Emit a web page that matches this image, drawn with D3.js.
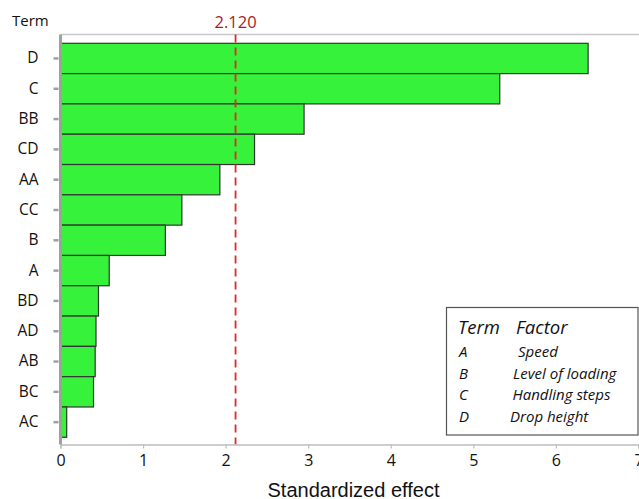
<!DOCTYPE html>
<html>
<head>
<meta charset="utf-8">
<script src="https://cdn.jsdelivr.net/npm/d3@7"></script>
<style>
  html, body { margin: 0; padding: 0; background: #fff; }
  svg { display: block; }
</style>
</head>
<body>
<div id="chart"></div>
<script>
// Pareto chart of standardized effects
const terms = ["D", "C", "BB", "CD", "AA", "CC", "B", "A", "BD", "AD", "AB", "BC", "AC"];
const effects = [6.39, 5.32, 2.95, 2.35, 1.93, 1.47, 1.27, 0.59, 0.46, 0.43, 0.42, 0.40, 0.075];
const xTicks = [0, 1, 2, 3, 4, 5, 6, 7];
const critical = 2.12;
const legendTerms = ["A", "B", "C", "D"];
const legendFactors = ["Speed", "Level of loading", "Handling steps", "Drop height"];

const width = 639, height = 499;
const plotLeft = 60.5, plotRight = 638.5, plotTop = 34.5, plotBottom = 444.5;

const svg = d3.select("#chart").append("svg")
  .attr("width", width)
  .attr("height", height);

const x = d3.scaleLinear().domain([0, 7]).range([plotLeft, plotRight]);
const y = d3.scaleBand().domain(terms).range([43.3, 437.3]).padding(0);

// top frame line
svg.append("line")
  .attr("x1", plotLeft).attr("x2", width).attr("y1", plotTop).attr("y2", plotTop)
  .attr("stroke", "#c8c8c8").attr("stroke-width", 1.5);

// bars
svg.append("g")
  .selectAll("rect")
  .data(terms.map((t, i) => ({ term: t, value: effects[i] })))
  .join("rect")
  .attr("x", x(0))
  .attr("y", (d) => y(d.term))
  .attr("width", (d) => x(d.value) - x(0))
  .attr("height", y.bandwidth())
  .attr("fill", "#37f23a")
  .attr("stroke", "#333")
  .attr("stroke-width", 1.2);

// reference line
svg.append("line")
  .attr("x1", x(critical)).attr("x2", x(critical))
  .attr("y1", plotTop).attr("y2", plotBottom)
  .attr("stroke", "#dd2a2a")
  .attr("stroke-width", 1.8)
  .attr("stroke-dasharray", "8,5");

svg.append("text")
  .attr("x", x(critical))
  .attr("y", 27.5)
  .attr("text-anchor", "middle")
  .attr("font-family", "'Open Sans', sans-serif")
  .attr("font-size", 16.5)
  .attr("fill", "#a81c1c")
  .text(d3.format(".3f")(critical));

// x axis
const gx = svg.append("g")
  .attr("transform", `translate(0,${plotBottom})`)
  .call(d3.axisBottom(x).tickValues(xTicks).tickFormat(d3.format("d")).tickSize(4).tickPadding(6));
gx.select(".domain").attr("stroke", "#bdbdbd").attr("stroke-width", 1.5);
gx.selectAll(".tick line").attr("stroke", "#bdbdbd").attr("stroke-width", 1.2);
gx.selectAll(".tick text")
  .attr("font-family", "'Open Sans', sans-serif")
  .attr("font-size", 16)
  .attr("fill", "#111");

// y axis
const gy = svg.append("g")
  .attr("transform", `translate(${plotLeft},0)`)
  .call(d3.axisLeft(y).tickSize(0).tickPadding(22));
gy.select(".domain").remove();
gy.append("line")
  .attr("x1", 0).attr("x2", 0).attr("y1", plotTop).attr("y2", plotBottom)
  .attr("stroke", "#a0a0a0").attr("stroke-width", 3);
gy.selectAll(".tick").append("line")
  .attr("x1", -7).attr("x2", -2)
  .attr("stroke", "#a0a0a0").attr("stroke-width", 2.5);
gy.selectAll(".tick text")
  .attr("font-family", "'Open Sans', sans-serif")
  .attr("font-size", 15.5)
  .attr("fill", "#111");

svg.append("text")
  .attr("x", 12).attr("y", 26)
  .attr("font-family", "'Open Sans', sans-serif")
  .attr("font-size", 15)
  .attr("fill", "#111")
  .text("Term");

svg.append("text")
  .attr("x", (plotLeft + plotRight) / 2 + 4).attr("y", 497)
  .attr("text-anchor", "middle")
  .attr("font-family", "'Liberation Sans', Arial, sans-serif")
  .attr("font-size", 20)
  .attr("fill", "#111")
  .text("Standardized effect");

// legend
const lg = svg.append("g");
lg.append("rect")
  .attr("x", 446.5).attr("y", 307.5)
  .attr("width", 191.5).attr("height", 127.5)
  .attr("fill", "#fff")
  .attr("stroke", "#555").attr("stroke-width", 1.2);
const italic = (sel) => sel
  .attr("font-family", "'Open Sans', sans-serif")
  .attr("font-style", "italic")
  .attr("fill", "#111");
lg.append("text").attr("x", 458).attr("y", 334).attr("font-size", 18.5).call(italic).text("Term");
lg.append("text").attr("x", 516).attr("y", 334).attr("font-size", 18.5).call(italic).text("Factor");
const factorX = [518, 513, 512.5, 510];
legendTerms.forEach((t, i) => {
  const by = 357 + i * 21.5;
  lg.append("text").attr("x", 459).attr("y", by).attr("font-size", 15).call(italic).text(t);
  lg.append("text").attr("x", factorX[i]).attr("y", by).attr("font-size", 15).call(italic).text(legendFactors[i]);
});
</script>
</body>
</html>
